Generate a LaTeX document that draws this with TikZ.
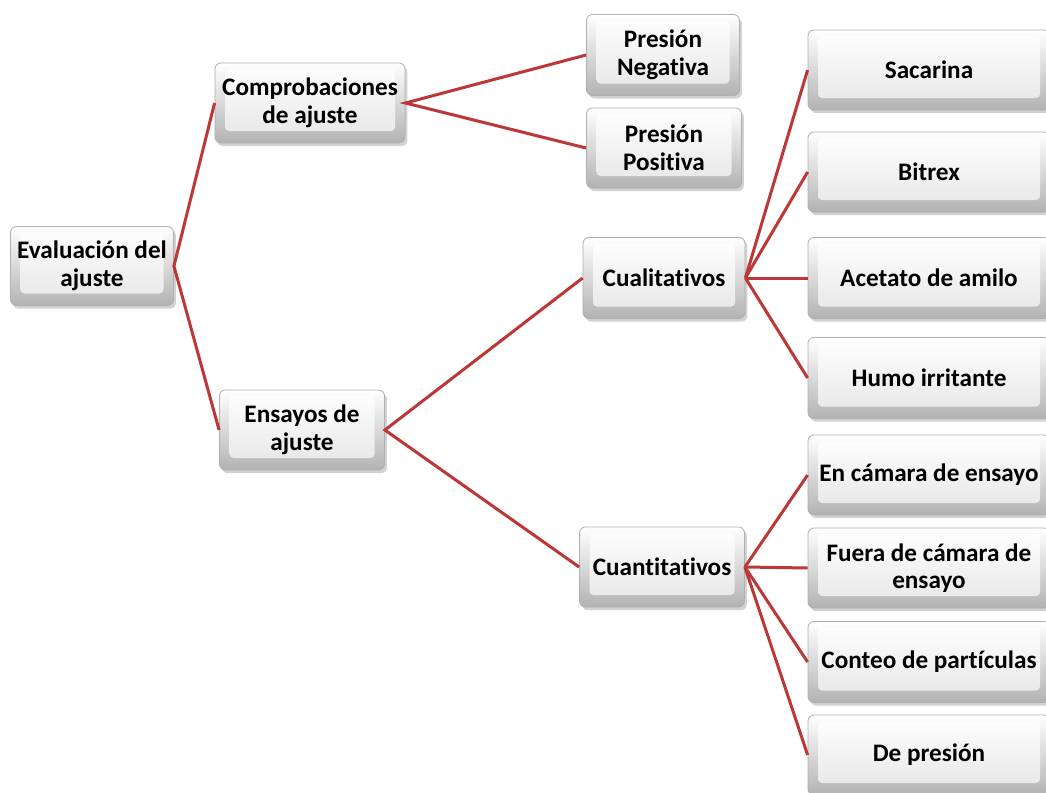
\documentclass[tikz,border=0pt]{standalone}
\usepackage{fontspec}
\setmainfont[Ligatures=NoCommon]{Carlito}
\usetikzlibrary{shadows}
\definecolor{linered}{RGB}{190,55,55}
\definecolor{boxedge}{RGB}{175,175,175}
\tikzset{
  box/.style={rounded corners=3pt, draw=boxedge, line width=0.4pt,
    top color=white, bottom color=black!30,
    drop shadow={shadow xshift=1.2pt, shadow yshift=-1.6pt, opacity=0.35},
    align=center, font=\bfseries\fontsize{12.6}{13.8}\selectfont, text=black, inner sep=1pt,
    path picture={\shade[top color=white, bottom color=black!10, rounded corners=2pt]
      ([shift={(5pt,-3pt)}]path picture bounding box.north west) rectangle
      ([shift={(-5pt,6pt)}]path picture bounding box.south east);}},
  conn/.style={draw=linered, line width=1.5pt}
}
\begin{document}
\begin{tikzpicture}[x=0.5pt,y=-0.5pt]
\fill[white] (0,0) rectangle (1046,793);
\useasboundingbox (0,0) rectangle (1046,793);
\clip (0,0) rectangle (1046,793);
% level 0
\node[box, minimum width=81.5pt, minimum height=39.5pt] (eval) at (92,266) {Evaluación del\\ajuste};
% level 1
\node[box, minimum width=95pt, minimum height=40pt] (comp) at (310,103) {Comprobaciones\\de ajuste};
\node[box, minimum width=82.5pt, minimum height=40pt] (ens) at (302,430) {Ensayos de\\ajuste};
% level 2
\node[box, minimum width=76.5pt, minimum height=40.5pt] (pn) at (663,55) {Presión\\Negativa};
\node[box, minimum width=77.5pt, minimum height=40pt] (pp) at (664,148) {Presión\\Positiva};
\node[box, minimum width=81pt, minimum height=40.5pt] (cual) at (664,278) {Cualitativos};
\node[box, minimum width=82.5pt, minimum height=40pt] (cuan) at (662,567) {Cuantitativos};
% level 3
\node[box, minimum width=121pt, minimum height=40pt] (sac) at (929,70) {Sacarina};
\node[box, minimum width=121pt, minimum height=40pt] (bit) at (929,172) {Bitrex};
\node[box, minimum width=121pt, minimum height=40.5pt] (ace) at (929,278) {Acetato de amilo};
\node[box, minimum width=121pt, minimum height=40.5pt] (humo) at (929,378) {Humo irritante};
\node[box, minimum width=121pt, minimum height=40pt] (cam) at (929,475) {En cámara de ensayo};
\node[box, minimum width=121pt, minimum height=40pt] (fue) at (929,568) {Fuera de cámara de\\ensayo};
\node[box, minimum width=121pt, minimum height=40.5pt] (con) at (929,662) {Conteo de partículas};
\node[box, minimum width=121pt, minimum height=40pt] (dep) at (929,755) {De presión};
% connectors
\draw[conn] (comp.west) -- (eval.east) -- (ens.west);
\draw[conn] (pn.west) -- (comp.east) -- (pp.west);
\draw[conn] (cual.west) -- (ens.east) -- (cuan.west);
\foreach \c in {sac,bit,ace,humo} \draw[conn] (cual.east) -- (\c.west);
\foreach \c in {cam,fue,con,dep} \draw[conn] (cuan.east) -- (\c.west);
\end{tikzpicture}
\end{document}
